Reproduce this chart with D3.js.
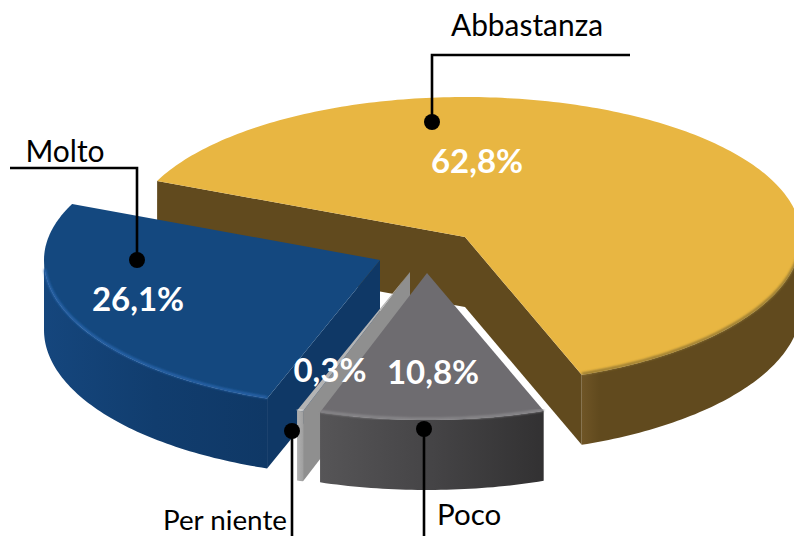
<!DOCTYPE html>
<html><head><meta charset="utf-8">
<script src="https://cdnjs.cloudflare.com/ajax/libs/d3/7.8.5/d3.min.js"></script>
<style>html,body{margin:0;padding:0;background:#fff;overflow:hidden}svg{display:block}
text{font-family:Lato,"Open Sans",sans-serif}</style></head>
<body><svg id="c" width="794" height="536"></svg>
<script>
// ---- data ----
const categories = ["Abbastanza", "Poco", "Per niente", "Molto"];
const values = [62.8, 10.8, 0.3, 26.1];
const valueLabels = ["62,8%", "10,8%", "0,3%", "26,1%"];

// ---- layout and styling ----
const W = 794, H = 536, RX = 336, RY_BACK = 140, RY_FRONT = 147, DEPTH = 70;
const rad = Math.PI / 180;
const centers = [[465, 237], [427, 273], [410, 272], [380, 260]];
const tops = ["#e8b642", "#6e6c70", "#b4b4b4", "#14487f"];
const faces = ["#614a1e", "#555", "#8f8f8f", "#0f3866"];
const rims = ["#8f7430", "#8c8b8e", "#e6e6e6", "#2a66ad"];
const wallStops = [
  [["#6f5526", 0], ["#614a1e", .08], ["#614a1e", 1]],
  [["#565557", 0], ["#454446", .5], ["#323132", 1]],
  [["#b0b0b0", 0], ["#a0a0a0", 1]],
  [["#15467d", 0], ["#113d6e", .5], ["#0f3866", 1]]
];
const labelPos = [[477, 173], [433, 384], [330, 382], [138, 311]];
const callouts = [
  {text: 0, dot: [432, 122], path: [[432, 122], [432, 55], [630, 55]], at: [527, 36], size: 29.9, anchor: "middle"},
  {text: 3, dot: [137, 260], path: [[137, 260], [137, 168], [10, 168]], at: [65, 162], size: 30, anchor: "middle"},
  {text: 2, dot: [292, 431], path: [[292, 431], [292, 536]], at: [287, 530], size: 27.8, anchor: "end"},
  {text: 1, dot: [424, 429], path: [[424, 429], [424, 536]], at: [437, 525], size: 29.5, anchor: "start"}
];

const svg = d3.select("#c");
const defs = svg.append("defs");
const blur = defs.append("filter").attr("id", "soft")
  .attr("x", "-5%").attr("y", "-5%").attr("width", "110%").attr("height", "110%");
blur.append("feGaussianBlur").attr("stdDeviation", 1.1);
wallStops.forEach((stops, i) => {
  const g = defs.append("linearGradient").attr("id", "wall" + i);
  stops.forEach(s => g.append("stop").attr("offset", s[1]).attr("stop-color", s[0]));
});

const pie = d3.pie().sort(null).startAngle(-66.4 * rad).endAngle(293.6 * rad);
const arcs = pie(values);
const line = d3.line();

const pt = (c, a, dy = 0) => {
  const cos = Math.cos(a);
  return [c[0] + RX * Math.sin(a), c[1] - (cos > 0 ? RY_BACK : RY_FRONT) * cos + dy];
};
const rimPts = (c, a0, a1, dy = 0) => {
  const n = Math.max(2, Math.ceil((a1 - a0) / rad));
  return d3.range(n + 1).map(k => pt(c, a0 + (a1 - a0) * k / n, dy));
};

// paint back to front
const order = [0, 3, 2, 1];
order.forEach(i => {
  const a = arcs[i], c = centers[i];
  const g = svg.append("g");
  const lo = Math.max(a.startAngle, 90 * rad), hi = Math.min(a.endAngle, 270 * rad);

  // flat cut faces that look toward the viewer
  const cutFace = ang => {
    const p = pt(c, ang);
    g.append("path").attr("fill", faces[i]).attr("d", line([
      c, p, [p[0], p[1] + DEPTH], [c[0], c[1] + DEPTH]
    ]) + "Z");
  };
  if (i === 0) { cutFace(a.startAngle); cutFace(a.endAngle); }
  if (i === 2 || i === 3) cutFace(a.startAngle);

  // outer wall
  if (hi > lo) {
    const top = rimPts(c, lo, hi), bottom = rimPts(c, lo, hi, DEPTH).reverse();
    g.append("path").attr("fill", `url(#wall${i})`).attr("d", line(top.concat(bottom)) + "Z");
  }

  // top surface
  g.append("path").attr("fill", tops[i])
    .attr("d", line([c].concat(rimPts(c, a.startAngle, a.endAngle))) + "Z");

  // soft bevel on the front rim, stopping short of the far ends
  if (hi > lo) {
    const inset = i === 3 ? 4 * rad : 0;
    g.append("path").attr("fill", "none").attr("stroke", rims[i])
      .attr("stroke-width", i === 2 ? 1.5 : 2.4).attr("filter", "url(#soft)")
      .attr("d", line(rimPts(c, lo, hi - inset, -1)));
  }
});

// value labels
svg.selectAll("text.value").data(valueLabels).join("text").attr("class", "value")
  .attr("x", (d, i) => labelPos[i][0]).attr("y", (d, i) => labelPos[i][1])
  .attr("text-anchor", "middle").attr("font-size", 33).attr("font-weight", 700)
  .attr("fill", "#fff").text(d => d);

// callouts
callouts.forEach(k => {
  svg.append("path").attr("fill", "none").attr("stroke", "#000").attr("stroke-width", 2.6)
    .attr("d", line(k.path));
  svg.append("circle").attr("cx", k.dot[0]).attr("cy", k.dot[1]).attr("r", 8).attr("fill", "#000");
  svg.append("text").attr("x", k.at[0]).attr("y", k.at[1]).attr("text-anchor", k.anchor)
    .attr("font-size", k.size).attr("fill", "#000").text(categories[k.text]);
});
</script></body></html>
